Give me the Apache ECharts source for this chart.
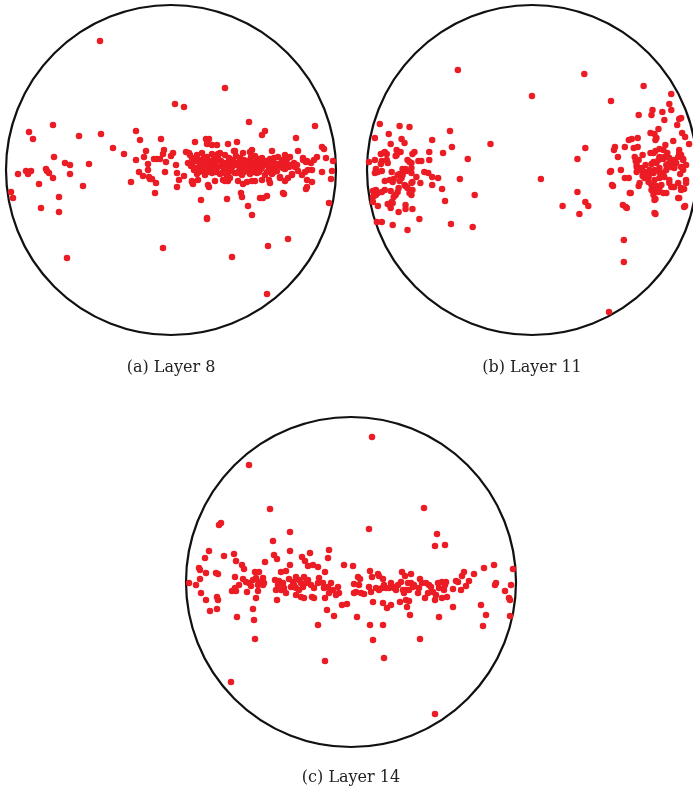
<!DOCTYPE html>
<html><head><meta charset="utf-8">
<script src="https://cdn.jsdelivr.net/npm/echarts@6/dist/echarts.min.js"></script>
<style>html,body{margin:0;padding:0;background:#fff}#c{width:693px;height:797px}</style>
</head><body><div id="c"></div>
<script>
// Point positions in panel units (circle radius = 165 units), x to the right, y upward
const layer8 = [
[-71,129],[-104,-88],[4,66],[13,63],[54,82],[-8,-78],[61,-87],[97,-76],[117,-69],[96,-124],
[-118,45],[-142,38],[-138,31],[-92,34],[-70,36],[-35,39],[-31,30],[-10,31],[-58,22],[-47,16],[-25,19],[-27,13],[-35,10],[-17,11],[-14,11],[-11,11],[-8,16],[-7,20],[-5,8],[-23,6],[-23,0],[-32,-2],[-28,-6],[-22,-7],[-21,-9],[-19,-9],[-15,-13],[-16,-23],[-6,-2],[-40,-12],[-117,13],[-106,7],[-101,5],[-82,6],[-101,-4],[-145,-1],[-140,-1],[-143,-4],[-153,-4],[-125,1],[-124,-1],[-122,-3],[-118,-8],[-132,-14],[-88,-16],[-160,-22],[-158,-28],[-112,-27],[-130,-38],[-112,-42],
[78,48],[144,44],[94,39],[91,35],[125,32],[24,28],[35,31],[38,31],[36,26],[41,25],[46,25],[57,26],[66,28],[151,23],[153,21],[2,17],[0,14],[15,18],[19,15],[127,19],[101,19],[81,20],[79,18],[63,19],[49,17],[146,13],[143,10],[140,7],[135,8],[132,12],[155,12],[162,9],[161,-1],[151,-2],[141,0],[134,-2],[160,-9],[141,-12],[135,-19],[136,-17],[158,-33],[113,-24],[96,-26],[92,-28],[89,-28],[70,-23],[71,-27],[56,-29],[30,-30],[77,-36],[81,-45],[36,-49],[36,-48],[5,5],[6,-3],[8,-10],[6,-17],[13,-6],[21,-12],[22,-14],[38,-17],[44,-11],[52,-10],[57,-11],[67,-11],[72,-14],[76,-12],[84,-11],[91,-10],[98,-10],[109,-7],[117,-8],[121,-4],[124,3],[126,5],[112,2],[114,5],
[21,12],[29,10],[36,13],[43,11],[50,9],[58,12],[65,14],[73,10],[80,13],[87,11],[95,8],[103,12],[111,10],[119,13],
[17,7],[25,9],[32,6],[39,8],[47,10],[54,7],[61,5],[69,9],[76,6],[84,8],[91,7],[99,9],[107,6],[115,8],[123,7],
[20,4],[28,3],[35,5],[42,2],[50,4],[57,3],[65,5],[72,2],[79,4],[87,3],[94,5],[102,2],[110,4],[118,3],
[23,0],[31,-1],[38,1],[45,-2],[53,0],[60,1],[68,-1],[75,0],[83,-2],[90,1],[98,0],[106,-1],[114,1],
[26,-4],[34,-5],[41,-3],[49,-4],[56,-6],[64,-3],[71,-5],[79,-4],[86,-3],[94,-5],[101,-4],
[18,17],[26,15],[31,17],[41,16],[47,16],[54,15],[64,19],[72,17],[114,15],[132,10],[136,9],
[21,-11],[27,-10],[37,-15],[54,-11],[59,-8],[81,-11],[99,-13],[109,-8],[114,-11],[121,-5],[127,-1],[131,-5],[137,0],[136,-10],[112,-23],
[24,11],[33,12],[40,9],[47,13],[62,10],[69,12],[77,9],[84,14],[91,12],[99,11],[107,13],[116,11],
[21,6],[29,7],[36,8],[44,6],[51,7],[58,9],[66,7],[73,8],[80,7],[88,6],[95,9],[103,7],[111,7],[119,5],
[25,2],[32,3],[39,4],[46,2],[54,2],[61,3],[69,3],[76,4],[83,2],[91,3],[98,3],[105,4],[113,2],
[28,-2],[36,-2],[43,-1],[51,-3],[58,-2],[66,-3],[73,-2],[81,-1],[88,-2],[96,-2],[103,-2]
];
const layer11 = [
[-73,100],[2,74],[55,96],[11,-9],[-40,26],[95,-92],[80,-142],[95,-70],
[-152,46],[-132,44],[-122,43],[-143,36],[-81,39],[-157,32],[-130,31],[-127,27],[-141,26],[-99,30],[-79,23],[-135,20],[-131,18],[-117,18],[-119,16],[-102,18],[-88,17],[-151,16],[-148,17],[-145,16],[-136,14],[-157,10],[-163,8],[-150,9],[-145,10],[-144,7],[-124,10],[-122,8],[-120,7],[-113,9],[-110,9],[-102,10],[-63,11],[-151,6],[-156,1],[-157,-3],[-154,-2],[-150,-1],[-140,-2],[-129,1],[-126,1],[-125,-1],[-120,2],[-120,-3],[-107,-2],[-103,-3],[-132,-4],[-129,-5],[-115,-7],[-99,-7],[-93,-8],[-71,-9],[-147,-11],[-142,-10],[-139,-12],[-138,-9],[-132,-11],[-119,-12],[-111,-13],[-126,-16],[-124,-18],[-99,-15],[-159,-21],[-156,-20],[-154,-23],[-150,-22],[-141,-21],[-133,-18],[-134,-22],[-122,-23],[-120,-25],[-89,-19],[-56,-25],[-159,-27],[-158,-26],[-156,-25],[-138,-27],[-136,-25],[-159,-32],[-144,-34],[-140,-32],[-139,-33],[-154,-36],[-141,-38],[-126,-35],[-126,-39],[-119,-39],[-133,-42],[-86,-31],[-112,-49],[-155,-52],[-150,-52],[-139,-55],[-80,-54],[-58,-57],[-124,-60],
[-147,18],[-135,15],[-134,-5],[-130,-8],[-127,-15],[-120,-13],[-119,-20],[-147,-20],[-142,-35],
[115,84],[82,69],[143,76],[141,66],[143,60],[124,60],[134,58],[110,55],[123,55],[136,50],[151,51],[153,52],[149,45],[130,41],[122,37],[126,36],[127,30],[128,32],[154,37],[157,33],[100,30],[103,31],[109,32],[86,23],[85,20],[96,23],[105,22],[109,23],[56,22],[137,25],[145,29],[161,26],[114,15],[127,19],[125,17],[122,17],[135,20],[139,17],[151,20],[153,15],[89,13],[106,13],[107,9],[108,5],[48,11],[131,13],[135,11],[141,12],[146,10],[150,13],[117,5],[123,6],[128,7],[140,6],[143,3],[146,3],[155,11],[158,5],[82,-1],[92,0],[111,1],[114,-1],[121,0],[120,-5],[125,-3],[131,2],[135,-3],[138,0],[152,-4],[155,0],[96,-8],[100,-8],[114,-6],[116,-8],[110,-16],[111,-13],[84,-16],[128,-16],[123,-15],[141,-13],[143,-17],[146,-17],[153,-18],[156,-19],[158,-13],[131,-18],[135,-23],[125,-22],[125,-25],[127,-29],[138,-23],[102,-23],[150,-28],[48,-22],[56,-32],[59,-36],[33,-36],[50,-44],[94,-35],[97,-37],[127,-44],[157,-36],
[131,21],[136,13],[133,12],[130,10],[125,8],[143,8],[148,7],[151,17],[155,10],[153,3],[146,2],[138,5],[131,-2],[126,0],[123,-3],[120,-7],[116,-2],[113,2],[108,3],[110,10],[108,-2],[115,-5],[120,-12],[126,-10],[131,-8],[136,-7],[141,-10],[145,-17],[150,-13],[153,-20],[158,-10],[133,-15],[126,-17],[123,-20],[130,-22],[126,-30],[101,-23],[81,-2],[83,-15],[98,-38],[126,-43],[151,-28],[156,-37]
];
const layer14 = [
[21,145],[-102,117],[-130,59],[-132,57],[-81,73],[18,53],[73,74],[86,48],[84,36],[94,37],[-26,-79],[33,-76],[-120,-100],[84,-132],[-96,-57],[69,-57],[22,-58],
[-61,50],[-78,41],[-142,31],[-146,24],[-127,26],[-117,28],[-115,21],[-77,27],[-74,23],[-61,31],[-86,20],[-49,25],[-46,21],[-41,29],[-22,32],[-23,24],[-7,17],[-152,14],[-151,12],[-145,9],[-135,9],[-133,8],[-109,17],[-107,13],[-61,17],[-70,10],[-65,11],[-43,16],[-38,17],[-33,15],[-26,10],[-116,5],[-96,10],[-92,10],[-162,-1],[-155,-3],[-151,3],[-108,3],[-105,0],[-102,-1],[-98,2],[-95,4],[-92,0],[-88,4],[-87,-1],[-112,-3],[-100,-4],[-93,-3],[-119,-9],[-115,-9],[-116,-6],[-104,-10],[-93,-9],[-88,-3],[-76,2],[-72,1],[-68,-1],[-73,-3],[-75,-8],[-70,-8],[-67,-6],[-65,-11],
[-62,3],[-58,0],[-55,5],[-52,2],[-50,-1],[-57,-3],[-60,-5],[-55,-6],[-52,-8],[-48,-5],[-45,-1],[-43,2],[-47,5],[-40,-3],[-37,-6],[-33,-1],[-32,4],[-28,-1],[-27,-6],[-23,-5],[-20,-1],[-18,-8],[-13,-5],[-12,-11],[-15,-13],[-39,-15],[-37,-16],[-55,-13],[-50,-15],[-47,-16],[-26,-16],[-22,-11],[-9,-23],[-4,-22],[-24,-28],[-17,-34],[-33,-43],[-74,-18],[-95,-16],[-98,-27],[-97,-38],[-114,-35],[-150,-11],[-145,-18],[-134,-15],[-133,-18],[-141,-29],[-134,-27],
[2,16],[19,11],[21,5],[27,8],[28,6],[51,10],[54,6],[60,8],[32,3],[7,5],[9,3],[3,-2],[8,-3],[143,17],[133,14],[123,8],[113,10],[111,6],[118,1],[105,1],[107,0],[162,13],[160,-3],[145,-1],[144,-3],[154,-9],[158,-16],[159,-18],[130,-23],[135,-33],[132,-44],[159,-34],[115,-4],[110,-8],[102,-7],[102,-25],[88,-35],[6,-35],[19,-43],[32,-43],[56,-25],[59,-33],
[95,0],[94,-3],[91,0],[87,-1],[88,-6],[93,-8],[96,-15],[91,-16],[84,-18],[85,-13],[69,3],[71,-1],[75,-1],[78,-3],[80,-5],[82,-10],[77,-11],[74,-16],[67,-11],[68,-6],[50,0],[57,-1],[60,-1],[62,-5],[58,-8],[63,-3],[55,-8],[52,-8],[53,-11],[49,-20],[55,-18],[58,-19],[33,-3],[35,-6],[38,-6],[40,-1],[42,-5],[43,-6],[45,-8],[47,-3],[31,-6],[28,-8],[25,-6],[20,-10],[18,-5],[13,-12],[10,-11],[3,-11],[5,-10],[22,-20],[32,-21],[36,-26],[40,-23]
];
const captions = ['(a) Layer 8', '(b) Layer 11', '(c) Layer 14'];
const layers = [layer8, layer11, layer14];

const R = 165;            // panel radius in pixels and in data units
const panels = [{cx:171, cy:170}, {cx:532, cy:170}, {cx:351, cy:582}];
const captionY = [368, 368, 778];
const dotColor = '#ec1c24';

const chart = echarts.init(document.getElementById('c'), null, {renderer:'canvas'});
const option = {
  animation: false,
  backgroundColor: '#ffffff',
  grid: panels.map(p => ({left: p.cx - R, top: p.cy - R, width: 2*R, height: 2*R, containLabel: false})),
  xAxis: panels.map((p,i) => ({type:'value', gridIndex:i, min:-R, max:R, show:false})),
  yAxis: panels.map((p,i) => ({type:'value', gridIndex:i, min:-R, max:R, show:false})),
  polar: panels.map(p => ({center:[p.cx, p.cy], radius: R})),
  angleAxis: panels.map((p,i) => ({
    polarIndex:i, type:'value', min:0, max:360, silent:true,
    axisLine:{show:true, lineStyle:{color:'#111111', width:2.2}},
    axisTick:{show:false}, axisLabel:{show:false}, splitLine:{show:false}
  })),
  radiusAxis: panels.map((p,i) => ({polarIndex:i, type:'value', min:0, max:1, show:false})),
  series: layers.map((d,i) => ({
    type:'scatter', xAxisIndex:i, yAxisIndex:i, data:d,
    symbol:'circle', symbolSize:6.5, clip:false,
    itemStyle:{color:dotColor, opacity:1},
    emphasis:{disabled:true}
  })),
  graphic: panels.map((p,i) => ({
    type:'text', x:p.cx, y:captionY[i], silent:true,
    style:{text:captions[i], fill:'#222', font:'16px "DejaVu Serif", serif', align:'center', verticalAlign:'middle'}
  }))
};
chart.setOption(option);
</script>
</body></html>
